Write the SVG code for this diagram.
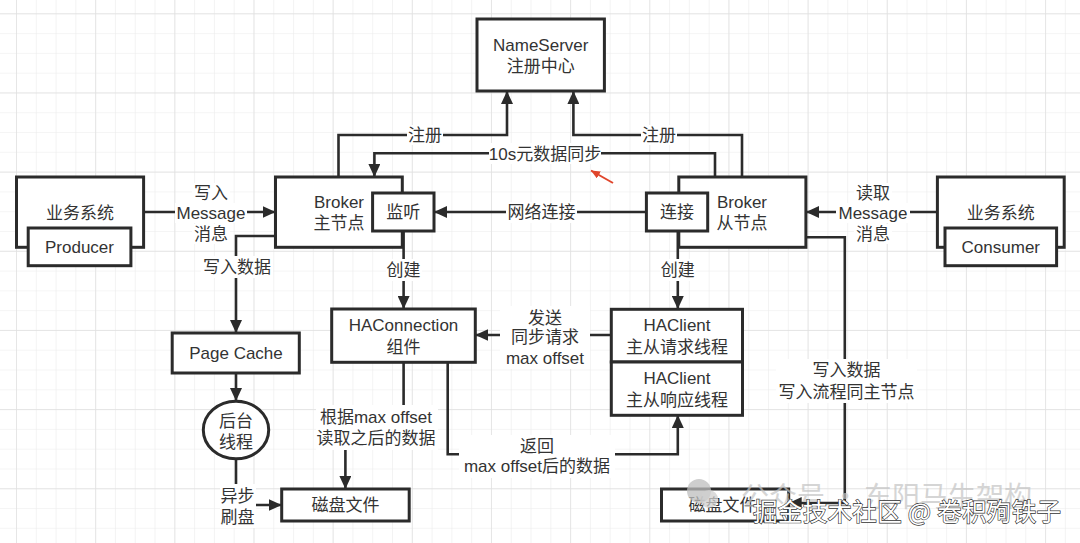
<svg xmlns="http://www.w3.org/2000/svg" width="1080" height="543" viewBox="0 0 1080 543">
<defs>
<pattern id="gridMinor" x="16" y="13.3" width="19.79" height="19.79" patternUnits="userSpaceOnUse">
<path d="M0,0 V19.79 M0,0 H19.79" fill="none" stroke="#ececec" stroke-width="1.2"/>
</pattern>
<pattern id="gridMajor" x="16" y="13.3" width="79.16" height="79.16" patternUnits="userSpaceOnUse">
<path d="M0,0 V79.16 M0,0 H79.16" fill="none" stroke="#e0e0e0" stroke-width="1.4"/>
</pattern>
<marker id="ah" markerUnits="userSpaceOnUse" markerWidth="14" markerHeight="12" refX="13" refY="6" orient="auto">
<path d="M0,0 L13,6 L0,12 z" fill="#2b2b2b"/>
</marker>
<marker id="ahRed" markerUnits="userSpaceOnUse" markerWidth="10" markerHeight="8" refX="9" refY="4" orient="auto">
<path d="M0,0 L9,4 L0,8 z" fill="#e0452b"/>
</marker>
</defs>
<style>
.box{fill:#fff;stroke:#2b2b2b;stroke-width:3}
.t{font-family:"Liberation Sans","Noto Sans CJK SC",sans-serif;font-size:17px;fill:#333;text-anchor:middle}
.edge{fill:none;stroke:#2b2b2b;stroke-width:2.6;marker-end:url(#ah)}
.lb{fill:#fff}
</style>
<rect width="1080" height="543" fill="#fff"/>
<rect width="1080" height="543" fill="url(#gridMinor)"/>
<rect width="1080" height="543" fill="url(#gridMajor)"/>

<g id="connectors">
<path class="edge" d="M143.6,212 H275.5"/>
<path class="edge" d="M338.5,177 V135 H507 V91"/>
<path class="edge" d="M742,177 V135 H573.4 V91"/>
<path class="edge" d="M715,177 V153.3 H374.4 V177"/>
<path class="edge" d="M646.4,212 H434"/>
<path class="edge" d="M937.4,212 H806"/>
<path class="edge" d="M275.5,236 H236 V333"/>
<path class="edge" d="M236,373 V401"/>
<path class="edge" d="M236,459 V505 H281.7"/>
<path class="edge" d="M403.6,231 V309"/>
<path class="edge" d="M677.8,231 V309"/>
<path class="edge" d="M611,335 H475.3"/>
<path class="edge" d="M403.6,362 V427 H345.4 V489"/>
<path class="edge" d="M447.7,362 V454.3 H677.8 V415"/>
<path class="edge" d="M806,237.3 H844.8 V503 H788.7"/>

<rect class="lb" x="192" y="183" width="38" height="20"/>
<rect class="lb" x="175" y="203" width="72" height="20"/>
<rect class="lb" x="192" y="224" width="38" height="20"/>
<text class="t" x="211" y="199">写入</text>
<text class="t" x="211" y="219">Message</text>
<text class="t" x="211" y="240">消息</text>

<rect class="lb" x="407" y="125" width="36" height="20"/>
<text class="t" x="425" y="141">注册</text>
<rect class="lb" x="641" y="125" width="36" height="20"/>
<text class="t" x="659" y="141">注册</text>

<rect class="lb" x="489" y="143" width="112" height="21"/>
<text class="t" x="545" y="159.5">10s元数据同步</text>

<rect class="lb" x="506" y="202" width="71" height="21"/>
<text class="t" x="541.5" y="218">网络连接</text>

<rect class="lb" x="854" y="183" width="38" height="20"/>
<rect class="lb" x="836" y="203" width="74" height="20"/>
<rect class="lb" x="854" y="224" width="38" height="20"/>
<text class="t" x="873" y="199">读取</text>
<text class="t" x="873" y="219">Message</text>
<text class="t" x="873" y="240">消息</text>

<rect class="lb" x="201" y="256" width="72" height="22"/>
<text class="t" x="237" y="273">写入数据</text>

<rect class="lb" x="220" y="484" width="36" height="44"/>
<text class="t" x="237.6" y="502">异步</text>
<text class="t" x="237.6" y="523">刷盘</text>

<rect class="lb" x="386" y="259" width="36" height="22"/>
<text class="t" x="403.6" y="276">创建</text>
<rect class="lb" x="660" y="259" width="36" height="22"/>
<text class="t" x="677.8" y="276">创建</text>

<rect class="lb" x="500" y="306" width="90" height="63"/>
<text class="t" x="545" y="324">发送</text>
<text class="t" x="545" y="343">同步请求</text>
<text class="t" x="545" y="364">max offset</text>

<rect class="lb" x="316" y="405" width="122" height="45"/>
<text class="t" x="376" y="423">根据max offset</text>
<text class="t" x="376" y="444">读取之后的数据</text>

<rect class="lb" x="459" y="435" width="156" height="43"/>
<text class="t" x="537" y="452">返回</text>
<text class="t" x="537" y="472">max offset后的数据</text>

<rect class="lb" x="776" y="359" width="141" height="44"/>
<text class="t" x="846.5" y="376">写入数据</text>
<text class="t" x="846.5" y="398">写入流程同主节点</text>

<path d="M613,183 L591,170.5" fill="none" stroke="#e0452b" stroke-width="2" marker-end="url(#ahRed)"/>
</g>

<g id="nameserver">
<rect class="box" x="477" y="19" width="127.4" height="72"/>
<text class="t" x="540.7" y="50.5">NameServer</text>
<text class="t" x="540.7" y="72">注册中心</text>
</g>

<g id="broker-master">
<rect class="box" x="275.5" y="177" width="126.8" height="70.3"/>
<text class="t" x="339" y="208">Broker</text>
<text class="t" x="339" y="229">主节点</text>
</g>
<g id="listen">
<rect class="box" x="372.6" y="193" width="61.4" height="38"/>
<text class="t" x="403.3" y="218">监听</text>
</g>

<g id="biz-left">
<rect class="box" x="16.5" y="177" width="127.1" height="70.3"/>
<text class="t" x="80" y="218.5">业务系统</text>
</g>
<g id="producer">
<rect class="box" x="28.2" y="228" width="102.7" height="37.7"/>
<text class="t" x="79.5" y="253">Producer</text>
</g>

<g id="broker-slave">
<rect class="box" x="678.8" y="177" width="127.1" height="70.3"/>
<text class="t" x="742" y="208">Broker</text>
<text class="t" x="742" y="229">从节点</text>
</g>
<g id="connect">
<rect class="box" x="646.4" y="193" width="61.3" height="38"/>
<text class="t" x="677" y="218">连接</text>
</g>

<g id="biz-right">
<rect class="box" x="937.4" y="177" width="126.8" height="70.3"/>
<text class="t" x="1000.8" y="218.5">业务系统</text>
</g>
<g id="consumer">
<rect class="box" x="945" y="228" width="111.6" height="37.7"/>
<text class="t" x="1000.8" y="253">Consumer</text>
</g>

<g id="page-cache">
<rect class="box" x="172.2" y="333" width="127.1" height="40"/>
<text class="t" x="236" y="359">Page Cache</text>
</g>

<g id="bg-thread">
<ellipse class="box" cx="236" cy="430" rx="32.7" ry="28.8"/>
<text class="t" x="236" y="427">后台</text>
<text class="t" x="236" y="448">线程</text>
</g>

<g id="disk-left">
<rect class="box" x="281.7" y="489" width="127.5" height="32"/>
<text class="t" x="345.4" y="511">磁盘文件</text>
</g>

<g id="haconnection">
<rect class="box" x="331.7" y="309" width="143.6" height="53.3"/>
<text class="t" x="403.5" y="331">HAConnection</text>
<text class="t" x="403.5" y="352.5">组件</text>
</g>

<g id="haclient-req">
<rect class="box" x="611.3" y="309.3" width="131.2" height="52.7"/>
<text class="t" x="677" y="330.5">HAClient</text>
<text class="t" x="677" y="352.5">主从请求线程</text>
</g>
<g id="haclient-resp">
<rect class="box" x="611.3" y="362" width="131.2" height="53.3"/>
<text class="t" x="677" y="383.5">HAClient</text>
<text class="t" x="677" y="406">主从响应线程</text>
</g>

<g id="disk-right">
<rect class="box" x="661.5" y="489" width="127.2" height="32"/>
<text class="t" x="722.5" y="511">磁盘文件</text>
</g>

<g id="watermark">
<circle cx="699" cy="491" r="12" fill="#bdbdbd" opacity="0.75"/>
<circle cx="709" cy="499" r="9" fill="#cfcfcf" opacity="0.75"/>
<text x="741" y="507" font-family="'Noto Sans CJK SC',sans-serif" font-size="28" fill="#c4c4c4" opacity="0.7">公众号 · <tspan x="864">东阳马生架构</tspan></text>
<text x="753" y="521" font-family="'Noto Sans CJK SC',sans-serif" font-size="24.5" fill="#fff" stroke="#333" stroke-width="1.3" paint-order="stroke" textLength="308">掘金技术社区 @ 卷积殉铁子</text>
</g>
</svg>
